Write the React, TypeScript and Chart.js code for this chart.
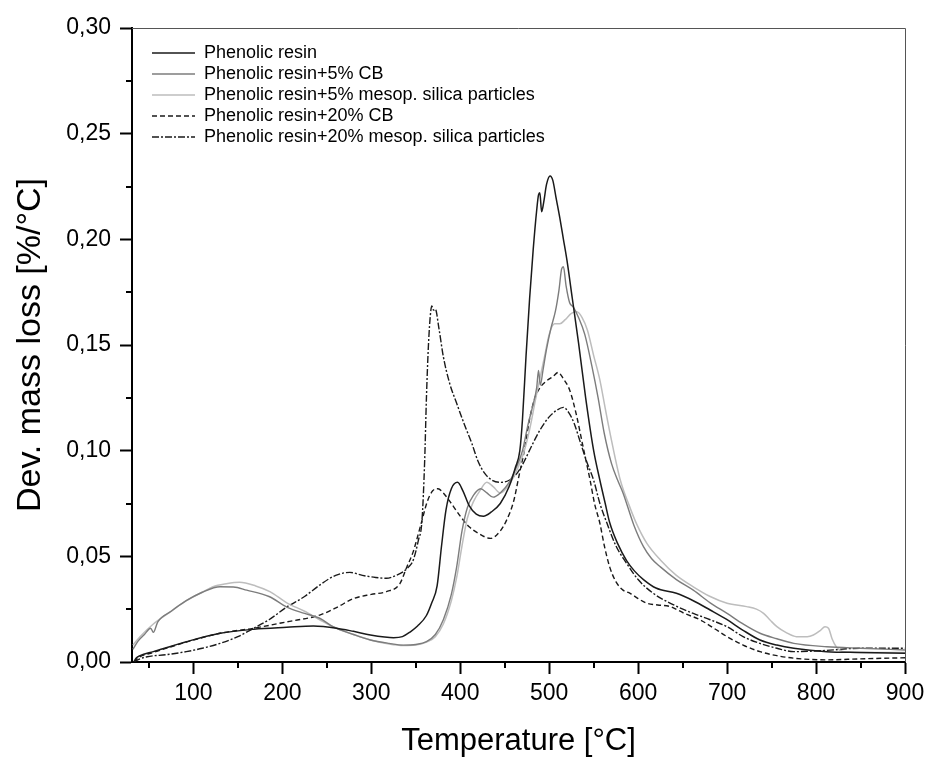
import React, { useEffect, useRef } from 'react';
import { Chart, registerables } from 'chart.js';

Chart.register(...registerables);

// ---- axis ticks ----
const xTicks = [100, 200, 300, 400, 500, 600, 700, 800, 900];
const xMinorTicks = [50, 150, 250, 350, 450, 550, 650, 750, 850];
const yTicks = [0, 0.05, 0.1, 0.15, 0.2, 0.25, 0.3];
const yMinorTicks = [0.025, 0.075, 0.125, 0.175, 0.225, 0.275];

const seriesNames = [
  'Phenolic resin',
  'Phenolic resin+5% CB',
  'Phenolic resin+5% mesop. silica particles',
  'Phenolic resin+20% CB',
  'Phenolic resin+20% mesop. silica particles',
];

// ---- Phenolic resin ----
const resinT = [33, 36, 40, 55, 92, 130, 168, 205, 235, 261, 280, 299, 315, 325, 335, 344, 352, 362, 368, 374, 379, 384, 390, 397, 403, 410, 418, 426, 435, 445, 455, 462, 467, 470, 474, 478, 482, 486, 488, 489.5, 491.5, 494, 497, 501, 504, 508, 512, 516, 520, 526, 533, 541, 550, 557, 563, 568, 577, 587, 596, 606, 620, 643, 662, 681, 700, 718, 737, 756, 775, 812, 850, 900];
const resinV = [0.0, 0.002, 0.003, 0.0049, 0.0096, 0.0136, 0.0155, 0.0164, 0.017, 0.016, 0.0145, 0.0128, 0.0118, 0.0115, 0.012, 0.0143, 0.017, 0.022, 0.028, 0.036, 0.055, 0.072, 0.082, 0.085, 0.081, 0.074, 0.07, 0.069, 0.071, 0.075, 0.083, 0.092, 0.1, 0.115, 0.145, 0.172, 0.195, 0.214, 0.221, 0.222, 0.213, 0.218, 0.226, 0.23, 0.228, 0.219, 0.21, 0.2, 0.19, 0.172, 0.151, 0.125, 0.1, 0.086, 0.075, 0.066, 0.056, 0.048, 0.043, 0.039, 0.035, 0.0325, 0.029, 0.0246, 0.02, 0.015, 0.0104, 0.008, 0.0065, 0.0049, 0.0045, 0.0041];

// ---- Phenolic resin + 5% CB ----
const cb5T = [32, 38, 45, 52, 55, 60, 75, 92, 110, 130, 145, 160, 185, 205, 225, 242, 257, 280, 299, 320, 336, 350, 362, 372, 381, 390, 396, 402, 408, 415, 423, 430, 437, 445, 455, 463, 470, 476, 482, 486, 488, 490, 493, 497, 502, 507, 511, 514, 516, 519, 523, 527, 533, 540, 548, 555, 562, 570, 577, 583, 595, 606, 615, 625, 643, 662, 681, 700, 718, 737, 756, 775, 812, 850, 900];
const cb5V = [0.006, 0.01, 0.013, 0.016, 0.014, 0.019, 0.024, 0.029, 0.033, 0.0356, 0.0355, 0.034, 0.031, 0.026, 0.023, 0.0207, 0.0167, 0.013, 0.0104, 0.0088, 0.008, 0.0083, 0.0096, 0.013, 0.02, 0.032, 0.045, 0.062, 0.073, 0.079, 0.082, 0.08, 0.078, 0.08, 0.085, 0.092, 0.1, 0.112, 0.122, 0.13, 0.138, 0.131, 0.138, 0.148, 0.158, 0.166, 0.176, 0.186, 0.187, 0.178, 0.17, 0.168, 0.163, 0.155, 0.14, 0.125, 0.108, 0.094, 0.086, 0.08, 0.065, 0.0546, 0.049, 0.045, 0.039, 0.034, 0.028, 0.023, 0.018, 0.0136, 0.011, 0.0088, 0.0072, 0.0065, 0.0057];

// ---- Phenolic resin + 5% mesoporous silica ----
const si5T = [32, 40, 55, 75, 92, 110, 122, 137, 152, 170, 186, 205, 225, 242, 257, 280, 299, 320, 336, 350, 362, 372, 381, 390, 396, 402, 408, 415, 422, 430, 437, 445, 455, 465, 472, 478, 485, 490, 495, 500, 506, 512, 518, 525, 531, 537, 543, 550, 557, 563, 570, 580, 590, 598, 610, 625, 643, 662, 681, 700, 722, 733, 741, 748, 756, 766, 778, 790, 797, 805, 810, 814, 818, 823, 830, 850, 900];
const si5V = [0.008, 0.012, 0.018, 0.024, 0.029, 0.033, 0.0356, 0.037, 0.0377, 0.036, 0.0333, 0.028, 0.024, 0.02, 0.0167, 0.013, 0.0104, 0.0085, 0.0078, 0.008, 0.0094, 0.012, 0.018, 0.029, 0.04, 0.055, 0.068, 0.076, 0.081, 0.085, 0.083, 0.08, 0.084, 0.092, 0.1, 0.11, 0.125, 0.135, 0.145, 0.155, 0.16, 0.16, 0.162, 0.165, 0.1657, 0.163, 0.157, 0.145, 0.1334, 0.12, 0.105, 0.086, 0.074, 0.0656, 0.056, 0.0483, 0.041, 0.0356, 0.031, 0.0278, 0.0262, 0.025, 0.023, 0.02, 0.0167, 0.014, 0.012, 0.012, 0.0128, 0.015, 0.0167, 0.016, 0.011, 0.007, 0.005, 0.0045, 0.0045];

// ---- Phenolic resin + 20% CB ----
const cb20T = [33, 38, 55, 92, 130, 168, 205, 242, 262, 280, 300, 317, 332, 340, 347, 351, 357, 363, 369, 375, 381, 390, 400, 410, 420, 434, 445, 452, 460, 466, 472, 478, 484, 490, 497, 504, 510, 516, 523, 530, 538, 546, 551, 557, 562, 568, 575, 583, 591, 600, 610, 622, 636, 652, 670, 685, 700, 718, 737, 756, 775, 812, 850, 900];
const cb20V = [0.0, 0.002, 0.0045, 0.0094, 0.0136, 0.016, 0.019, 0.0222, 0.026, 0.03, 0.032, 0.0333, 0.037, 0.045, 0.052, 0.0577, 0.067, 0.076, 0.081, 0.082, 0.08, 0.075, 0.069, 0.064, 0.061, 0.0585, 0.062, 0.067, 0.076, 0.088, 0.1, 0.115, 0.125, 0.13, 0.133, 0.135, 0.137, 0.134, 0.1287, 0.118, 0.102, 0.086, 0.075, 0.0656, 0.055, 0.045, 0.038, 0.034, 0.0325, 0.03, 0.0278, 0.027, 0.0262, 0.023, 0.0199, 0.016, 0.012, 0.008, 0.0049, 0.003, 0.0018, 0.001, 0.0015, 0.002];

// ---- Phenolic resin + 20% mesoporous silica ----
const si20T = [33, 40, 48, 70, 92, 110, 130, 150, 168, 185, 205, 225, 242, 260, 276, 290, 305, 317, 328, 336, 342, 347, 353, 357, 360, 362, 364, 366, 368, 370, 372, 376, 381, 388, 396, 405, 413, 420, 428, 436, 445, 455, 465, 472, 480, 490, 500, 508, 516, 522, 528, 535, 542, 550, 557, 565, 575, 587, 600, 617, 640, 662, 681, 700, 718, 737, 756, 775, 812, 849, 900];
const si20V = [0.0, 0.0015, 0.0025, 0.0035, 0.0049, 0.0065, 0.0088, 0.012, 0.016, 0.02, 0.026, 0.031, 0.0364, 0.041, 0.0424, 0.041, 0.04, 0.0396, 0.041, 0.0427, 0.045, 0.048, 0.0577, 0.067, 0.095, 0.125, 0.1476, 0.162, 0.1685, 0.1665, 0.167, 0.158, 0.1445, 0.132, 0.1224, 0.112, 0.1035, 0.095, 0.089, 0.086, 0.085, 0.086, 0.09, 0.095, 0.102, 0.11, 0.116, 0.119, 0.1205, 0.118, 0.113, 0.104, 0.095, 0.086, 0.075, 0.0656, 0.055, 0.0467, 0.039, 0.0325, 0.027, 0.023, 0.02, 0.0167, 0.012, 0.0088, 0.0065, 0.0049, 0.0055, 0.0065, 0.0065];

const FONT = 'Arial, "Liberation Sans", Helvetica, sans-serif';

const toPoints = (t: number[], v: number[]) => t.map((x, i) => ({ x, y: v[i] }));

const framePlugin = {
  id: 'originFrame',
  afterLayout(chart: any) {
    const lg = chart.legend;
    const a = chart.chartArea;
    if (lg && a) {
      lg.left = a.left + 17;
      lg.top = a.top + 13;
      lg.right = a.right;
      lg.bottom = a.bottom;
    }
  },
  afterDraw(chart: any) {
    const { ctx, chartArea: a, scales } = chart;
    ctx.save();
    ctx.strokeStyle = '#555';
    ctx.lineWidth = 1;
    ctx.beginPath();
    ctx.moveTo(a.left, a.top + 0.5);
    ctx.lineTo(a.right + 0.5, a.top + 0.5);
    ctx.lineTo(a.right + 0.5, a.bottom);
    ctx.stroke();
    ctx.strokeStyle = '#000';
    ctx.lineWidth = 2;
    ctx.beginPath();
    xMinorTicks.forEach((v) => {
      const px = Math.round(scales.x.getPixelForValue(v));
      ctx.moveTo(px, a.bottom);
      ctx.lineTo(px, a.bottom + 6);
    });
    yMinorTicks.forEach((v) => {
      const py = Math.round(scales.y.getPixelForValue(v));
      ctx.moveTo(a.left, py);
      ctx.lineTo(a.left - 6, py);
    });
    ctx.stroke();
    ctx.restore();
  },
};

export default function App() {
  const ref = useRef<HTMLCanvasElement | null>(null);

  useEffect(() => {
    if (!ref.current) return;
    const styles = [
      { color: '#1a1a1a', dash: [] as number[], width: 1.5 },
      { color: '#7c7c7c', dash: [] as number[], width: 1.4 },
      { color: '#bdbdbd', dash: [] as number[], width: 1.5 },
      { color: '#1a1a1a', dash: [5, 3], width: 1.4 },
      { color: '#1a1a1a', dash: [7, 2, 2, 2], width: 1.4 },
    ];
    const data = [
      toPoints(resinT, resinV),
      toPoints(cb5T, cb5V),
      toPoints(si5T, si5V),
      toPoints(cb20T, cb20V),
      toPoints(si20T, si20V),
    ];
    const chart = new Chart(ref.current, {
      type: 'line',
      data: {
        datasets: data.map((d, i) => ({
          label: seriesNames[i],
          data: d,
          borderColor: styles[i].color,
          backgroundColor: styles[i].color,
          borderWidth: styles[i].width,
          borderDash: styles[i].dash,
          pointRadius: 0,
          pointStyle: 'line',
          cubicInterpolationMode: 'monotone' as const,
          fill: false,
        })),
      },
      options: {
        animation: false,
        responsive: true,
        maintainAspectRatio: false,
        layout: { padding: { top: 28, right: 26, left: 0, bottom: 0 } },
        plugins: {
          tooltip: { enabled: false },
          legend: {
            position: 'chartArea',
            align: 'start',
            labels: {
              usePointStyle: true,
              pointStyle: 'line',
              pointStyleWidth: 43,
              padding: 3,
              color: '#000',
              font: { family: FONT, size: 18 },
              generateLabels: (ch: any) => {
                const items = (Chart as any).defaults.plugins.legend.labels.generateLabels(ch);
                items.forEach((it: any, i: number) => {
                  it.lineDash = styles[i].dash;
                  it.lineWidth = styles[i].width;
                  it.strokeStyle = styles[i].color;
                  it.fillStyle = styles[i].color;
                  it.pointStyle = 'line';
                });
                return items;
              },
            },
          },
        },
        scales: {
          x: {
            type: 'linear',
            min: 31,
            max: 900,
            afterFit: (s: any) => { s.height = 100; },
            afterBuildTicks: (s: any) => { s.ticks = xTicks.map((v) => ({ value: v })); },
            grid: { display: true, drawOnChartArea: false, drawTicks: true, tickLength: 12, tickWidth: 2, tickColor: '#000' },
            border: { display: true, color: '#000', width: 2 },
            ticks: { color: '#000', font: { family: FONT, size: 23 }, padding: 6, maxRotation: 0 },
            title: { display: true, text: 'Temperature [°C]', color: '#000', font: { family: FONT, size: 31 }, padding: { top: 0, bottom: 2 } },
          },
          y: {
            type: 'linear',
            min: 0,
            max: 0.3,
            afterFit: (s: any) => { s.width = 132; },
            afterBuildTicks: (s: any) => { s.ticks = yTicks.map((v) => ({ value: v })); },
            grid: { display: true, drawOnChartArea: false, drawTicks: true, tickLength: 12, tickWidth: 2, tickColor: '#000' },
            border: { display: true, color: '#000', width: 2 },
            ticks: {
              color: '#000',
              font: { family: FONT, size: 23 },
              padding: 9,
              callback: (v: any) => Number(v).toFixed(2).replace('.', ','),
            },
            title: { display: true, text: 'Dev. mass loss [%/°C]', color: '#000', font: { family: FONT, size: 34 }, padding: { top: 10, bottom: 0 } },
          },
        },
      },
      plugins: [framePlugin],
    } as any);
    return () => chart.destroy();
  }, []);

  return (
    <div style={{ position: 'fixed', left: 0, top: 0, width: 931, height: 762, background: '#fff' }}>
      <canvas ref={ref} />
    </div>
  );
}
